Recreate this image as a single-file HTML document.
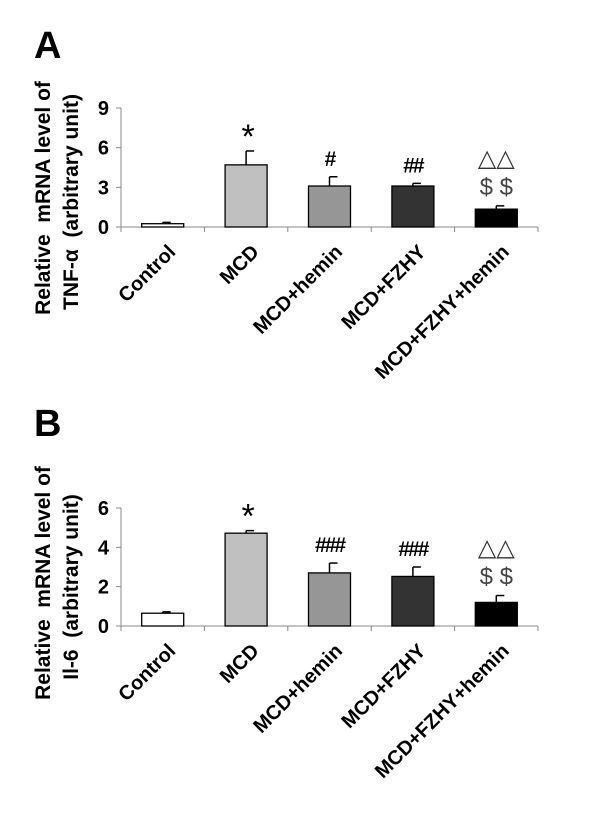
<!DOCTYPE html>
<html><head><meta charset="utf-8"><style>
body{margin:0;background:#fff;}
svg{display:block;}
text{font-family:"Liberation Sans",Arial,sans-serif;white-space:pre;}
</style></head><body>
<svg id="fig" width="600" height="821" viewBox="0 0 600 821"></svg>
<script>
const categories = ["Control","MCD","MCD+hemin","MCD+FZHY","MCD+FZHY+hemin"];
const colors = ["#ffffff","#c0c0c0","#969696","#333333","#000000"];
const tnfValues = [0.25, 4.7, 3.1, 3.1, 1.35];
const tnfErrors = [0.1, 1.05, 0.7, 0.2, 0.25];
const tnfTicks = [0,3,6,9];
const tnfMarks = [[], ["*"], ["#"], ["##"], ["△△","$ $"]];
const il6Values = [0.65, 4.72, 2.7, 2.52, 1.2];
const il6Errors = [0.07, 0.13, 0.5, 0.48, 0.35];
const il6Ticks = [0,2,4,6];
const il6Marks = [[], ["*"], ["###"], ["###"], ["△△","$ $"]];

const NS="http://www.w3.org/2000/svg";
const svg=document.getElementById('fig');
function mk(tag,attrs,parent,txt){const e=document.createElementNS(NS,tag);for(const k in attrs)e.setAttribute(k,attrs[k]);if(txt!==undefined)e.textContent=txt;(parent||svg).appendChild(e);return e;}

function drawChart(o){
  const g=mk('g',{});
  
  
  const x0=121,x1=538,y0=o.y0,y1=o.ytop,max=o.ticks[o.ticks.length-1];
  const y=v=>y0-(v/max)*(y0-y1);
  const step=(x1-x0)/categories.length;
  const xc=i=>x0+step*(i+0.5);
  const p=mk('text',{x:34,y:o.letterY,'font-size':38,'font-weight':'bold'},g,o.letter);
  
  const ya=mk('line',{x1:x0,y1:y1,x2:x0,y2:y0,stroke:'#888','stroke-width':1},g);
  
  o.ticks.forEach(t=>{
    mk('line',{x1:x0-5,y1:y(t),x2:x0,y2:y(t),stroke:'#888'},g);
    const tl=mk('text',{x:109,y:y(t)+7,'font-size':20,'font-weight':'bold','text-anchor':'end'},g,t);
    
  });
  const xa=mk('line',{x1:x0,y1:y0,x2:x1,y2:y0,stroke:'#888'},g);
  
  for(let i=0;i<=categories.length;i++) mk('line',{x1:x0+step*i,y1:y0,x2:x0+step*i,y2:y0+5,stroke:'#888'},g);
  o.values.forEach((v,i)=>{
    const cx=xc(i),bw=42,top=y(v),et=y(v+o.errors[i]);
    mk('line',{x1:cx,y1:top,x2:cx,y2:et,stroke:'#000','stroke-width':1.5},g);
    mk('line',{x1:cx,y1:et,x2:cx+8,y2:et,stroke:'#000','stroke-width':1.5},g);
    const b=mk('rect',{x:cx-bw/2,y:top,width:bw,height:y0-top,fill:colors[i],stroke:'#000','stroke-width':1.3},g);
    
    
    const lx=cx+14, ly=y0+26;
    const lb=mk('text',{x:lx,y:ly,'font-size':20,'font-weight':'bold','text-anchor':'end',transform:`rotate(-45 ${lx} ${ly})`},g,categories[i]);
    
    const m=o.marks[i];
    if(m.length===1){
      if(m[0]==='*'){
        const t=mk('text',{x:cx+2,y:et-3,'font-size':34,'text-anchor':'middle','font-family':'"DejaVu Sans",sans-serif','font-weight':'normal'},g,'*');
        
      } else {
        const t=mk('text',{x:cx,y:et-11,'font-size':21,'font-weight':'bold','text-anchor':'middle','letter-spacing':'-2'},g,m[0]);
        
      }
    } else if(m.length===2){
      const t1=mk('text',{x:cx,y:et-40,'font-size':24,'text-anchor':'middle','font-family':'"DejaVu Sans",sans-serif',fill:'#333'},g,m[0]);
      
      const t2=mk('text',{x:cx,y:et-11,'font-size':24,'text-anchor':'middle','font-family':'"Liberation Serif",serif',fill:'#444'},g,m[1]);
      
    }
  });
  const a1=mk('text',{x:0,y:0,'font-size':21,'font-weight':'bold','text-anchor':'middle',transform:`translate(50 ${o.labelY}) rotate(-90)`},g,'Relative  mRNA level of');
  
  const a2=mk('text',{x:0,y:0,'font-size':21,'font-weight':'bold','text-anchor':'middle',transform:`translate(78 ${o.labelY+4}) rotate(-90)`},g,o.line2);
  
}
drawChart({name:'tnf-alpha-chart',letter:'A',letterY:58,y0:227,ytop:108,ticks:tnfTicks,values:tnfValues,errors:tnfErrors,marks:tnfMarks,labelY:198,line2:'TNF-α  (arbitrary unit)'});
drawChart({name:'il6-chart',letter:'B',letterY:436,y0:626,ytop:508,ticks:il6Ticks,values:il6Values,errors:il6Errors,marks:il6Marks,labelY:583,line2:'Il-6  (arbitrary unit)'});
</script>
</body></html>
